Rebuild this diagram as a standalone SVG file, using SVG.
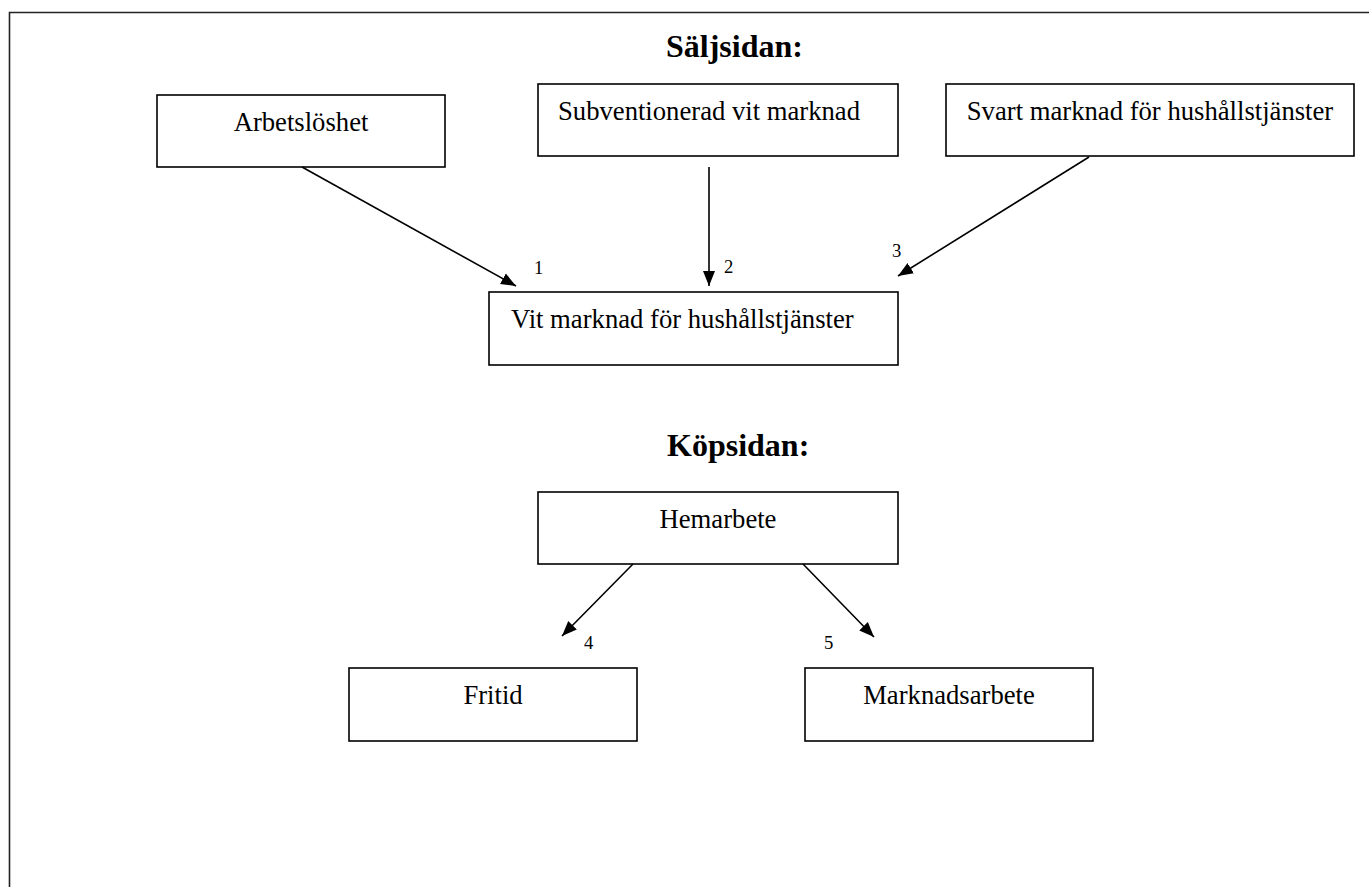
<svg xmlns="http://www.w3.org/2000/svg" width="1369" height="887" viewBox="0 0 1369 887">
<defs>
<style>
.box{fill:#fff;stroke:#000;stroke-width:1.6}
.t{font-family:"Liberation Serif","Times New Roman",serif;font-size:26.67px;fill:#000}
.h{font-family:"Liberation Serif","Times New Roman",serif;font-size:32px;font-weight:bold;fill:#000}
.n{font-family:"Liberation Serif","Times New Roman",serif;font-size:18.67px;fill:#000}
.c{stroke:#000;stroke-width:1.6;fill:none;marker-end:url(#ah)}
</style>
<marker id="ah" markerUnits="userSpaceOnUse" markerWidth="16" markerHeight="14" viewBox="0 0 16 14" refX="15" refY="7" orient="auto">
<path d="M0,1 L15,7 L0,13 Z" fill="#000"/>
</marker>
</defs>
<rect width="1369" height="887" fill="#fff"/>
<path d="M9.5,887 V12.5 H1369" fill="none" stroke="#222" stroke-width="1.6"/>
<text class="h" x="666" y="57">Säljsidan:</text>
<text class="h" x="667" y="456">Köpsidan:</text>
<g id="arbetsloshet"><rect class="box" x="157" y="95" width="288" height="72"/><text class="t" x="301" y="131" text-anchor="middle">Arbetslöshet</text></g>
<g id="subventionerad"><rect class="box" x="538" y="84" width="360" height="72"/><text class="t" x="558" y="120">Subventionerad vit marknad</text></g>
<g id="svart"><rect class="box" x="946" y="84" width="408" height="72"/><text class="t" x="1150" y="120" text-anchor="middle">Svart marknad för hushållstjänster</text></g>
<g id="vit"><rect class="box" x="489" y="292" width="409" height="73"/><text class="t" x="511" y="328">Vit marknad för hushållstjänster</text></g>
<g id="hemarbete"><rect class="box" x="538" y="492" width="360" height="72"/><text class="t" x="718" y="528" text-anchor="middle">Hemarbete</text></g>
<g id="fritid"><rect class="box" x="349" y="668" width="288" height="73"/><text class="t" x="493" y="704" text-anchor="middle">Fritid</text></g>
<g id="marknadsarbete"><rect class="box" x="805" y="668" width="288" height="73"/><text class="t" x="949" y="704" text-anchor="middle">Marknadsarbete</text></g>
<g id="connectors">
<line class="c" x1="302" y1="167" x2="516" y2="286"/>
<line class="c" x1="709" y1="167" x2="709" y2="286"/>
<line class="c" x1="1089" y1="157" x2="898" y2="276"/>
<line class="c" x1="633" y1="564" x2="562" y2="636"/>
<line class="c" x1="803" y1="564" x2="874" y2="637"/>
<text class="n" x="534" y="274">1</text>
<text class="n" x="724" y="273">2</text>
<text class="n" x="892" y="257">3</text>
<text class="n" x="584" y="649">4</text>
<text class="n" x="824" y="649">5</text>
</g>
</svg>
